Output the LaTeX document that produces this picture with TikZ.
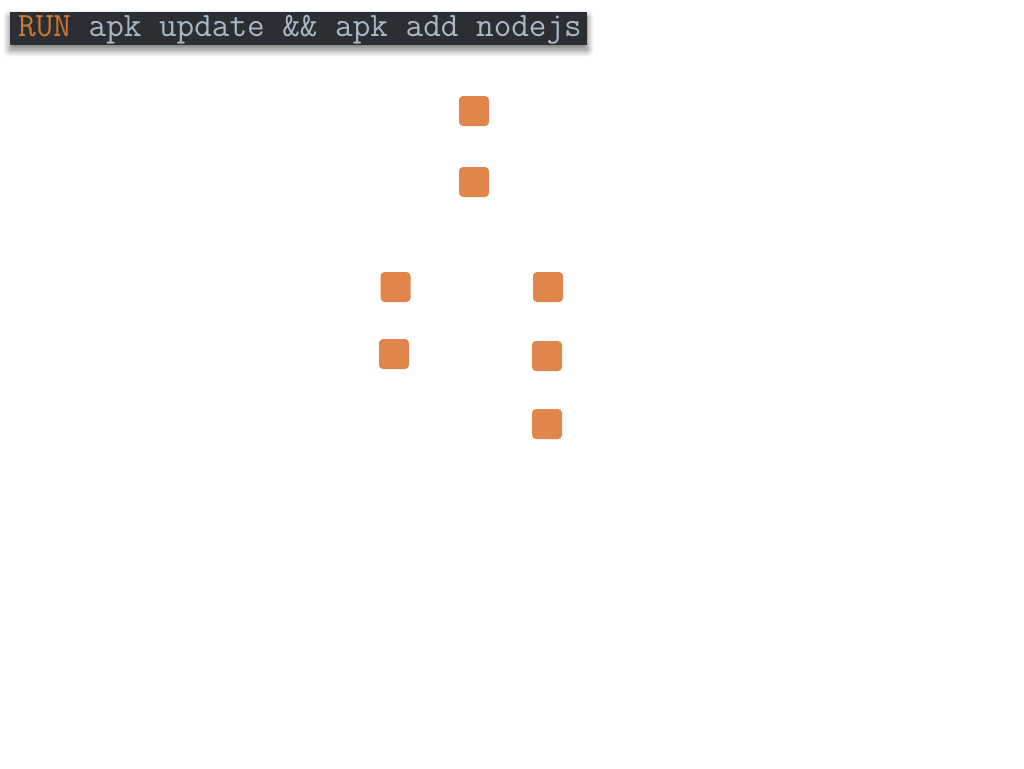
\documentclass[tikz,border=0pt]{standalone}
\usepackage{fontspec}
\usetikzlibrary{shadows.blur}
\definecolor{bannerbg}{HTML}{2B2E33}
\definecolor{codefg}{HTML}{A9B7C6}
\definecolor{kw}{HTML}{CC7832}
\definecolor{sq}{HTML}{E0864A}
\tikzset{
  banner/.style={fill=bannerbg, minimum width=577pt, minimum height=33pt, inner sep=0pt,
    blur shadow={shadow xshift=0pt, shadow yshift=-5pt, shadow blur radius=7pt, shadow blur steps=20, shadow opacity=55}},
  code/.style={font=\ttfamily\fontsize{34.2pt}{35pt}\selectfont, text=codefg, inner sep=0pt, anchor=base west},
  layer/.style={fill=sq, rounded corners=4pt, minimum size=30pt, inner sep=0pt}
}
\begin{document}
\begin{tikzpicture}[x=1pt,y=-1pt]
\useasboundingbox (0,0) rectangle (1024,768);
\node[banner] (bar) at (298.5,28.5) {};
\node[code] (txt) at (18,37) {\textcolor{kw}{RUN} apk update \&\& apk add nodejs};
\node[layer] (a1) at (474,111) {};
\node[layer] (a2) at (474,182) {};
\node[layer] (b1) at (395.5,287) {};
\node[layer] (b2) at (394,354) {};
\node[layer] (c1) at (548,287) {};
\node[layer] (c2) at (547,356) {};
\node[layer] (c3) at (547,424) {};
\end{tikzpicture}
\end{document}
